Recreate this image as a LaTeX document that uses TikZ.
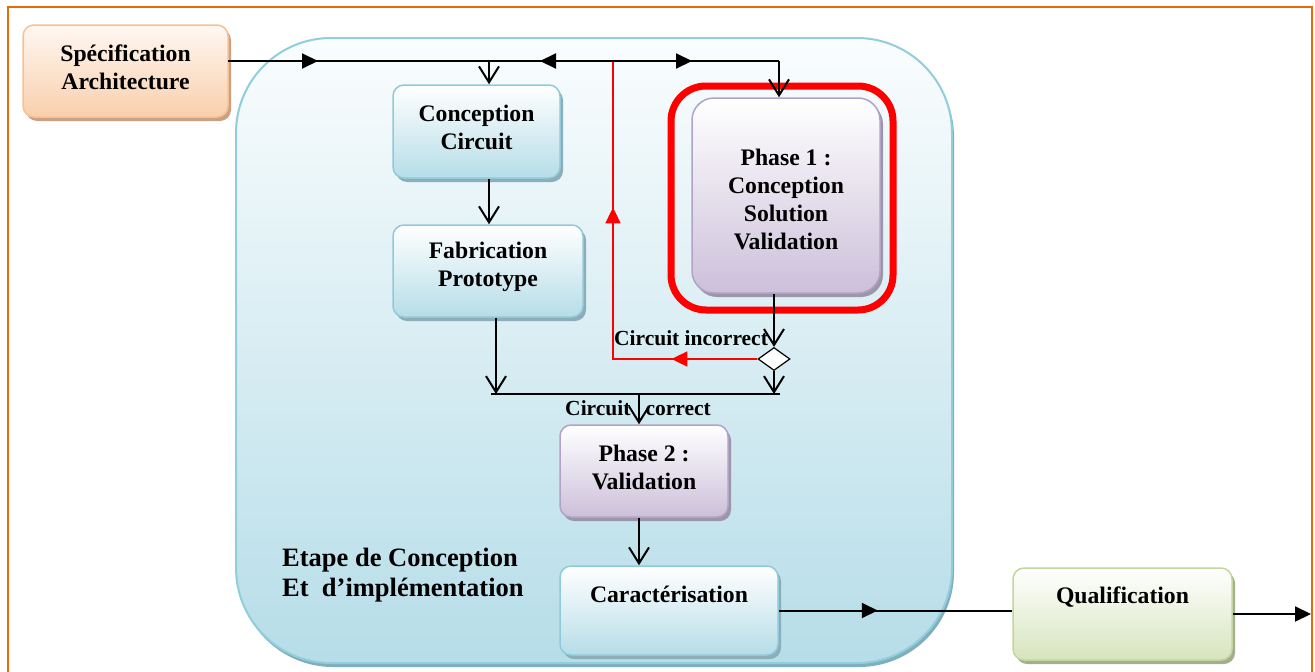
\documentclass[tikz,border=0pt]{standalone}
\usepackage{fontspec}
\setmainfont{Liberation Serif}
\usetikzlibrary{arrows.meta,shapes.geometric,shadows,decorations.markings,calc}

\definecolor{frameorange}{HTML}{E46C0A}
\definecolor{bigline}{HTML}{92CDDC}
\definecolor{bigtop}{HTML}{FAFDFE}
\definecolor{bigbot}{HTML}{B6DDE8}
\definecolor{bigshadow}{HTML}{7FAEBD}
\definecolor{blueline}{HTML}{8FCADA}
\definecolor{bluebot}{HTML}{B6DDE8}
\definecolor{blueshadow}{HTML}{8DAEB8}
\definecolor{orangeline}{HTML}{FAC090}
\definecolor{orangetop}{HTML}{FFF8F2}
\definecolor{orangebot}{HTML}{F9CFAC}
\definecolor{orangeshadow}{HTML}{C9A286}
\definecolor{purpline}{HTML}{B3A2C7}
\definecolor{purpbot}{HTML}{CCC0DA}
\definecolor{purpshadow}{HTML}{9C97A8}
\definecolor{greenline}{HTML}{C3D69B}
\definecolor{greenbot}{HTML}{D7E4BD}
\definecolor{greenshadow}{HTML}{A6AE92}

\newcommand\mainfnt{\fontsize{23.7}{28}\selectfont\bfseries}
\newcommand\smallfnt{\fontsize{21.5}{25}\selectfont\bfseries}
\newcommand\etapefnt{\fontsize{26.5}{30}\selectfont\bfseries}

\tikzset{
  fillhead/.tip={Triangle[length=16pt,width=15pt]},
  openhead/.tip={Straight Barb[length=16pt,width=20pt]},
  box/.style={rectangle, rounded corners=11pt, line width=1.5pt, inner sep=0pt},
  bluebox/.style={box, draw=blueline, top color=white, bottom color=bluebot,
    drop shadow={shadow xshift=3pt, shadow yshift=-4pt, fill=blueshadow, opacity=1}},
  orangebox/.style={box, draw=orangeline, top color=orangetop, bottom color=orangebot,
    drop shadow={shadow xshift=3pt, shadow yshift=-4pt, fill=orangeshadow, opacity=1}},
  purplebox/.style={box, draw=purpline, top color=white, bottom color=purpbot,
    drop shadow={shadow xshift=3pt, shadow yshift=-4pt, fill=purpshadow, opacity=1}},
  greenbox/.style={box, draw=greenline, top color=white, bottom color=greenbot,
    drop shadow={shadow xshift=3pt, shadow yshift=-4pt, fill=greenshadow, opacity=1}},
  txt/.style={font=\mainfnt, align=center},
  conn/.style={draw=black, line width=2pt},
  redconn/.style={color=red, line width=1.8pt},
  amark/.style={postaction={decorate}, decoration={markings, mark=at position #1 with {\arrow{fillhead}}}},
}

\begin{document}
\begin{tikzpicture}[x=1pt,y=-1pt]
\useasboundingbox (0,0) rectangle (1315,672);

% outer orange frame
\draw[frameorange, line width=2pt] (8,690) -- (8,7) -- (1312,7) -- (1312,690);

% big stage box
\node[rectangle, rounded corners=95pt, draw=bigline, line width=2pt, top color=bigtop, bottom color=bigbot,
  minimum width=716pt, minimum height=625pt, inner sep=0pt,
  drop shadow={shadow xshift=2pt, shadow yshift=-4pt, fill=bigshadow, opacity=1}] (stage) at (594,350.5) {};

% red highlight
\node[rectangle, rounded corners=35pt, draw=red, line width=7pt, minimum width=222pt, minimum height=224pt,
  inner sep=0pt] (hl) at (782,198) {};

% boxes
\node[orangebox, minimum width=205pt, minimum height=92pt,
  label={[txt, yshift=4pt]center:{Spécification\\Architecture}}] (spec) at (125.5,71) {};
\node[bluebox, minimum width=167pt, minimum height=93pt,
  label={[txt, yshift=4.5pt]center:{Conception\\Circuit}}] (cc) at (476.5,131.5) {};
\node[bluebox, minimum width=190pt, minimum height=92pt,
  label={[txt, yshift=4pt]center:{Fabrication\\Prototype}}] (fab) at (488,271) {};
\node[purplebox, rounded corners=22pt, minimum width=188pt, minimum height=195pt,
  label={[txt, yshift=-4pt]center:{Phase 1 :\\Conception\\Solution\\Validation}}] (ph1) at (786,195.5) {};
\node[purplebox, minimum width=168pt, minimum height=92pt,
  label={[txt, yshift=4pt]center:{Phase 2 :\\Validation}}] (ph2) at (644,471) {};
\node[bluebox, minimum width=218pt, minimum height=89pt,
  label={[txt, yshift=16.5pt]center:{Caractérisation}}] (car) at (669,610.5) {};
\node[greenbox, minimum width=219pt, minimum height=92pt,
  label={[txt, yshift=17pt]center:{Qualification}}] (qual) at (1122.5,614) {};

% decision diamond
\node[diamond, draw=black, fill=white, line width=1.2pt, minimum width=32pt, minimum height=23pt, inner sep=0pt] (dia) at (774,359) {};

% labels
\node[font=\smallfnt, inner sep=0pt] (lincorrect) at (691,338) {Circuit incorrect};
\node[font=\smallfnt, inner sep=0pt] (lcorrect) at (638,408) {Circuit\hspace{15pt}correct};
\node[font=\etapefnt, align=left, anchor=west, inner sep=0pt] (etape) at (282,575) {Etape de Conception\\Et\ \ d’implémentation};

% junction coordinates
\coordinate (specout) at (228,61);
\coordinate (jc) at (489,61);
\coordinate (j1) at (613,61);
\coordinate (jp) at (779,61);
\coordinate (jl) at (491,394);
\coordinate (jf) at (496,394);
\coordinate (jr) at (780,394);
\coordinate (jm) at (639,394);
\coordinate (rc) at (613,359);
\coordinate (out) at (1311,614);

% red feedback loop
\draw[redconn, postaction={decorate}, decoration={markings,
   mark=at position 86pt with {\arrow{fillhead}},
   mark=at position 296pt with {\arrow{fillhead}}}]
  (dia.west) -- (rc) -- (j1);

% top distribution line
\draw[conn, amark=90pt] (specout) -- (jc);
\draw[conn, amark=73pt] (j1) -- (jc);
\draw[conn, amark=79pt] (j1) -- (jp);
\draw[conn, -openhead] (jc) -- (jc |- cc.north);
\draw[conn, -openhead] (jp) -- (jp |- ph1.north);

% left branch
\draw[conn, -openhead] (cc.south -| jc) -- (fab.north -| jc);
\draw[conn, -openhead] (fab.south -| jf) -- (jf);

% phase 1 to decision
\draw[conn, -openhead] (ph1.south -| dia) -- (dia.north);
\draw[conn, -openhead] (dia.south) -- (dia |- jr);

% merge bar
\draw[conn] (jl) -- (jr);
\draw[conn, -openhead] (jm) -- (jm |- ph2.north);
\draw[conn, -openhead] (ph2.south -| jm) -- (car.north -| jm);

% to qualification and out
\draw[conn, amark=99pt] (car.east) -- (qual.west |- car.east);
\draw[conn, -fillhead] (qual.east) -- (out);
\end{tikzpicture}
\end{document}
